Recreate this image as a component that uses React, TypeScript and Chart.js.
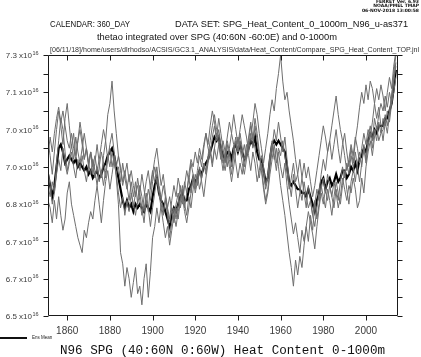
import React, { useEffect, useRef } from "react";
import { Chart, registerables } from "chart.js";
Chart.register(...registerables);

const FIRST_YEAR = 1851;
const years: number[] = Array.from({ length: 164 }, (_, i) => FIRST_YEAR + i);

const xTickYears = [1860, 1880, 1900, 1920, 1940, 1960, 1980, 2000];
const yTickValues = [6.55, 6.65, 6.75, 6.85, 6.95, 7.05, 7.15, 7.25];
const yTickLabels = ["6.5", "6.7", "6.7", "6.8", "7.0", "7.0", "7.1", "7.3"];

const ensMean = [
  6.93, 6.90, 6.87, 6.90, 6.95, 7.00, 7.01, 6.99, 6.96, 6.97,
  6.98, 6.97, 6.96, 6.97, 6.95, 6.96, 6.95, 6.94, 6.95, 6.93,
  6.94, 6.92, 6.93, 6.94, 6.92, 6.93, 6.95, 6.96, 6.98, 6.99,
  7.00, 6.98, 6.95, 6.92, 6.89, 6.86, 6.84, 6.86, 6.84, 6.85,
  6.83, 6.85, 6.84, 6.85, 6.84, 6.83, 6.85, 6.84, 6.83, 6.87,
  6.90, 6.92, 6.88, 6.86, 6.85, 6.83, 6.81, 6.79, 6.82, 6.84,
  6.83, 6.85, 6.87, 6.88, 6.86, 6.86, 6.89, 6.90, 6.92, 6.91,
  6.92, 6.94, 6.93, 6.95, 6.96, 6.97, 6.99, 7.01, 7.03, 7.02,
  7.03, 7.00, 6.98, 6.97, 6.99, 6.99, 6.97, 7.00, 7.01, 6.99,
  7.01, 6.99, 6.97, 6.98, 7.00, 7.02, 7.01, 7.03, 6.99, 6.97,
  6.97, 6.94, 6.91, 6.92, 6.97, 7.01, 7.02, 7.01, 7.02, 7.01,
  7.00, 6.99, 6.95, 6.91, 6.90, 6.91, 6.90, 6.89, 6.89, 6.88,
  6.88, 6.87, 6.89, 6.87, 6.85, 6.83, 6.86, 6.88, 6.91, 6.92,
  6.89, 6.91, 6.92, 6.90, 6.91, 6.93, 6.91, 6.92, 6.94, 6.94,
  6.92, 6.93, 6.95, 6.94, 6.96, 6.94, 6.97, 6.98, 7.00, 6.99,
  7.02, 7.04, 7.03, 7.05, 7.04, 7.06, 7.06, 7.06, 7.08, 7.08,
  7.10, 7.12, 7.16, 7.21,
];

const memberA = [
  7.02, 6.98, 6.93, 6.99, 7.05, 7.10, 7.06, 7.01, 7.08, 7.12,
  7.06, 7.00, 7.04, 6.98, 7.02, 7.07, 7.03, 6.97, 7.00, 6.95,
  6.99, 6.93, 6.96, 7.01, 6.96, 6.92, 6.98, 7.02, 6.97, 7.00,
  6.95, 6.98, 6.92, 6.85, 6.72, 6.69, 6.63, 6.68, 6.65, 6.60,
  6.64, 6.68, 6.61, 6.63, 6.58, 6.65, 6.69, 6.60, 6.67, 6.76,
  6.79, 6.84, 6.80, 6.85, 6.82, 6.87, 6.84, 6.81, 6.86, 6.90,
  6.87, 6.92, 6.89, 6.85, 6.90, 6.94, 6.91, 6.96, 6.93, 6.89,
  6.94, 6.98, 6.95, 7.00, 7.04, 7.01, 7.06, 7.10, 7.07, 7.03,
  7.08, 7.04, 7.00, 6.96, 7.01, 6.97, 6.93, 6.98, 7.02, 6.99,
  7.04, 7.00, 6.95, 6.99, 7.03, 7.07, 7.02, 7.08, 7.04, 6.99,
  6.95, 6.90, 6.86, 6.89, 6.95, 7.00, 7.05, 7.02, 7.07, 7.03,
  6.99, 7.03, 6.97, 6.91, 6.87, 6.93, 6.89, 6.84, 6.88, 6.92,
  6.88, 6.84, 6.90, 6.86, 6.82, 6.79, 6.84, 6.88, 6.93, 6.97,
  6.94, 6.99, 7.02, 6.97, 7.01, 7.05, 7.00, 6.96, 7.01, 7.04,
  6.99, 6.95, 7.00, 6.96, 7.02, 7.06, 7.11, 7.15, 7.12, 7.17,
  7.13, 7.18, 7.16, 7.12, 7.08, 7.11, 7.06, 7.02, 7.07, 7.04,
  7.09, 7.14, 7.20, 7.25,
];

const memberB = [
  6.86, 6.84, 6.80, 6.86, 6.81, 6.87, 6.82, 6.78, 6.81, 6.88,
  6.91, 6.85, 6.82, 6.79, 6.76, 6.74, 6.72, 6.78, 6.76, 6.80,
  6.83, 6.81, 6.86, 6.90, 6.85, 6.80, 6.86, 6.91, 6.94, 6.89,
  6.93, 6.97, 6.93, 6.95, 6.91, 6.96, 6.92, 6.89, 6.93, 6.88,
  6.84, 6.88, 6.90, 6.86, 6.82, 6.87, 6.91, 6.94, 6.89, 6.93,
  6.97, 7.00, 6.95, 6.90, 6.93, 6.88, 6.84, 6.87, 6.83, 6.80,
  6.84, 6.81, 6.86, 6.90, 6.85, 6.82, 6.87, 6.84, 6.89, 6.93,
  6.90, 6.94, 6.91, 6.87, 6.92, 6.96, 6.99, 6.95, 7.00, 7.04,
  7.01, 6.97, 7.02, 6.99, 6.95, 7.00, 7.04, 7.01, 6.96, 6.92,
  6.96, 6.93, 6.97, 7.01, 6.98, 6.94, 6.99, 6.96, 6.91, 6.94,
  6.98, 6.95, 6.90, 6.93, 6.97, 7.02, 6.98, 6.94, 6.99, 6.95,
  6.92, 6.96, 6.90, 6.85, 6.81, 6.77, 6.80, 6.76, 6.72, 6.78,
  6.75, 6.79, 6.83, 6.80, 6.77, 6.73, 6.79, 6.84, 6.88, 6.85,
  6.89, 6.86, 6.90, 6.87, 6.84, 6.89, 6.86, 6.91, 6.95, 6.92,
  6.96, 6.93, 6.98, 6.95, 6.91, 6.96, 6.99, 6.95, 7.01, 6.97,
  7.03, 7.06, 7.02, 7.08, 7.05, 7.09, 7.12, 7.10, 7.14, 7.11,
  7.15, 7.12, 7.18, 7.22,
];

const memberC = [
  6.94, 6.90, 6.85, 6.88, 6.96, 7.02, 7.08, 7.05, 6.99, 6.94,
  6.97, 7.01, 6.97, 7.03, 6.99, 6.96, 7.00, 7.04, 7.00, 6.96,
  6.93, 6.97, 6.94, 6.90, 6.95, 6.99, 6.96, 6.92, 6.97, 7.01,
  7.04, 6.99, 6.95, 6.98, 6.94, 6.90, 6.93, 6.96, 6.91, 6.94,
  6.90, 6.87, 6.92, 6.88, 6.93, 6.89, 6.85, 6.89, 6.86, 6.91,
  6.95, 6.92, 6.88, 6.84, 6.80, 6.76, 6.79, 6.74, 6.78, 6.82,
  6.79, 6.83, 6.86, 6.89, 6.84, 6.88, 6.92, 6.88, 6.93, 6.90,
  6.93, 6.89, 6.92, 6.96, 6.93, 6.97, 7.00, 6.96, 7.00, 6.97,
  7.01, 6.98, 6.94, 6.98, 7.02, 6.99, 6.95, 7.00, 7.03, 6.99,
  7.02, 6.98, 7.01, 6.97, 7.02, 7.06, 7.03, 7.00, 6.96, 6.92,
  6.96, 6.93, 6.89, 6.92, 6.98, 7.01, 6.97, 7.00, 6.95, 6.90,
  6.86, 6.82, 6.77, 6.72, 6.68, 6.63, 6.70, 6.66, 6.71, 6.68,
  6.74, 6.79, 6.75, 6.82, 6.78, 6.85, 6.89, 6.86, 6.90, 6.87,
  6.84, 6.89, 6.86, 6.82, 6.87, 6.91, 6.88, 6.85, 6.90, 6.94,
  6.89, 6.85, 6.91, 6.94, 6.99, 6.95, 6.91, 6.96, 7.00, 6.96,
  7.01, 7.04, 7.00, 7.05, 7.02, 7.07, 7.04, 7.08, 7.06, 7.10,
  7.07, 7.12, 7.15, 7.19,
];

const memberD = [
  6.90, 6.87, 6.91, 6.88, 6.93, 6.97, 6.94, 7.00, 6.96, 6.93,
  6.96, 6.99, 6.95, 6.92, 6.97, 6.94, 6.98, 6.94, 6.91, 6.95,
  6.99, 6.96, 6.92, 6.95, 6.91, 6.94, 6.90, 6.94, 6.98, 6.95,
  6.99, 6.96, 6.93, 6.88, 6.84, 6.87, 6.82, 6.86, 6.83, 6.88,
  6.85, 6.82, 6.86, 6.90, 6.87, 6.83, 6.88, 6.84, 6.79, 6.84,
  6.88, 6.92, 6.89, 6.86, 6.90, 6.87, 6.83, 6.80, 6.84, 6.81,
  6.85, 6.88, 6.84, 6.87, 6.83, 6.80, 6.84, 6.88, 6.92, 6.88,
  6.91, 6.95, 6.92, 6.96, 6.94, 6.98, 7.02, 7.06, 7.09, 7.05,
  7.03, 6.99, 6.96, 6.99, 7.03, 7.07, 7.04, 7.09, 7.05, 7.01,
  7.05, 7.09, 7.06, 7.03, 6.99, 7.03, 7.07, 7.12, 7.09, 7.04,
  7.00, 6.96, 7.00, 7.04, 7.09, 7.13, 7.10, 7.16, 7.20, 7.25,
  7.18, 7.13, 7.15, 7.10, 7.06, 7.02, 6.97, 6.93, 6.97, 6.92,
  6.96, 6.92, 6.95, 6.91, 6.87, 6.90, 6.94, 6.98, 7.02, 7.06,
  7.03, 6.99, 7.02, 7.06, 7.10, 7.14, 7.09, 7.05, 7.02, 6.98,
  6.94, 6.97, 7.01, 6.98, 7.03, 7.00, 6.96, 7.00, 7.04, 7.01,
  7.05, 7.03, 7.07, 7.12, 7.16, 7.13, 7.17, 7.14, 7.10, 7.15,
  7.19, 7.16, 7.22, 7.26,
];

const memberE = [
  6.98, 7.03, 6.99, 7.04, 7.08, 7.11, 7.07, 7.10, 7.06, 7.02,
  7.00, 7.04, 7.00, 6.97, 7.02, 7.05, 7.01, 6.97, 7.00, 6.96,
  6.99, 6.95, 6.98, 6.94, 6.97, 7.01, 7.05, 7.02, 7.09, 7.12,
  7.18, 7.10, 7.04, 6.98, 6.95, 6.91, 6.94, 6.90, 6.86, 6.91,
  6.87, 6.91, 6.85, 6.88, 6.84, 6.80, 6.86, 6.83, 6.90, 6.94,
  6.91, 6.95, 6.90, 6.87, 6.83, 6.86, 6.82, 6.76, 6.80, 6.84,
  6.81, 6.85, 6.90, 6.86, 6.91, 6.88, 6.93, 6.97, 6.95, 6.99,
  6.96, 7.00, 6.97, 7.01, 7.04, 7.00, 6.98, 7.03, 7.06, 7.02,
  7.05, 7.01, 6.97, 6.94, 6.98, 6.95, 6.91, 6.95, 6.99, 7.03,
  7.00, 6.96, 6.93, 6.97, 7.01, 7.04, 7.00, 7.06, 7.02, 6.98,
  6.94, 6.89, 6.85, 6.88, 6.93, 6.97, 7.01, 6.96, 7.00, 6.98,
  7.02, 6.98, 6.94, 6.89, 6.92, 6.96, 6.91, 6.93, 6.89, 6.86,
  6.91, 6.87, 6.84, 6.86, 6.82, 6.86, 6.81, 6.85, 6.89, 6.92,
  6.88, 6.93, 6.90, 6.87, 6.91, 6.88, 6.84, 6.87, 6.92, 6.89,
  6.86, 6.90, 6.88, 6.92, 6.89, 6.84, 6.86, 6.92, 6.88, 6.95,
  6.99, 7.02, 6.98, 7.03, 7.06, 7.02, 7.04, 7.05, 7.09, 7.06,
  7.10, 7.14, 7.18, 7.23,
];

const members = [memberA, memberB, memberC, memberD, memberE];

const toPoints = (vals: number[]) => vals.map((v, i) => ({ x: years[i], y: v }));

function fitText(ctx: CanvasRenderingContext2D, text: string, x: number, y: number, width: number) {
  const w = ctx.measureText(text).width;
  const s = w > 0 ? width / w : 1;
  ctx.save();
  ctx.translate(x, y);
  ctx.scale(s, 1);
  ctx.textAlign = "left";
  ctx.fillText(text, 0, 0);
  ctx.restore();
}

const framePlugin = {
  id: "ferretFrame",
  afterDraw(chart: any) {
    const { ctx, chartArea: a, scales } = chart;
    const x = scales.x;
    const y = scales.y;
    ctx.save();
    ctx.strokeStyle = "#1a1a1a";
    ctx.lineWidth = 1;
    const L = Math.round(a.left) + 0.5;
    const R = Math.round(a.right) - 0.5;
    const T = Math.round(a.top) + 0.5;
    const B = Math.round(a.bottom) - 0.5;
    ctx.beginPath();
    ctx.moveTo(L, T); ctx.lineTo(R, T); ctx.lineTo(R, B); ctx.lineTo(L, B); ctx.closePath();
    ctx.stroke();

    ctx.beginPath();
    xTickYears.forEach((yr) => {
      const px = Math.round(x.getPixelForValue(yr)) + 0.5;
      ctx.moveTo(px, B); ctx.lineTo(px, B + 5);
      ctx.moveTo(px, T); ctx.lineTo(px, T + 5);
    });
    for (let i = 0; i < yTickValues.length; i++) {
      const vals = [yTickValues[i]];
      if (i < yTickValues.length - 1) vals.push((yTickValues[i] + yTickValues[i + 1]) / 2);
      vals.forEach((v) => {
        const py = Math.round(y.getPixelForValue(v)) + 0.5;
        ctx.moveTo(L - 5, py); ctx.lineTo(L, py);
        ctx.moveTo(R, py); ctx.lineTo(R + 5, py);
      });
    }
    ctx.stroke();

    ctx.fillStyle = "#3a3a3a";
    ctx.font = "10px 'Liberation Sans', Arial, sans-serif";
    ctx.textAlign = "center";
    ctx.textBaseline = "middle";
    xTickYears.forEach((yr) => {
      ctx.fillText(String(yr), x.getPixelForValue(yr), 331);
    });

    yTickValues.forEach((v, i) => {
      const py = y.getPixelForValue(v);
      ctx.font = "8px 'Liberation Sans', Arial, sans-serif";
      ctx.textAlign = "right";
      ctx.textBaseline = "middle";
      ctx.fillText(yTickLabels[i] + " x10", 32, py + 1);
      ctx.font = "5.5px 'Liberation Sans', Arial, sans-serif";
      ctx.textAlign = "left";
      ctx.fillText("16", 32.5, py - 2);
    });

    ctx.fillStyle = "#111";
    ctx.textBaseline = "middle";
    ctx.font = "bold 4.5px 'DejaVu Sans', sans-serif";
    ctx.textAlign = "right";
    ctx.fillText("FERRET Ver. 6.93", 419, 2);
    ctx.fillText("NOAA/PMEL TMAP", 419, 6);
    ctx.fillText("06-NOV-2018 13:00:58", 419, 10.5);

    ctx.font = "8.5px 'Liberation Sans', Arial, sans-serif";
    fitText(ctx, "CALENDAR: 360_DAY", 50, 25, 80);
    fitText(ctx, "DATA SET: SPG_Heat_Content_0_1000m_N96_u-as371", 175, 25, 233);
    fitText(ctx, "thetao integrated over SPG (40:60N -60:0E) and 0-1000m", 97, 37.5, 240);
    ctx.fillStyle = "#333";
    ctx.font = "7.5px 'Liberation Sans', Arial, sans-serif";
    fitText(ctx, "[06/11/18]/home/users/dlrhodso/ACSIS/GC3.1_ANALYSIS/data/Heat_Content/Compare_SPG_Heat_Content_TOP.jnl", 50, 49.5, 369);

    ctx.strokeStyle = "#111";
    ctx.lineWidth = 2;
    ctx.beginPath();
    ctx.moveTo(0, 338); ctx.lineTo(27, 338);
    ctx.stroke();
    ctx.fillStyle = "#222";
    ctx.font = "4.5px 'Liberation Sans', Arial, sans-serif";
    ctx.textAlign = "left";
    ctx.fillText("Ens Mean", 32, 338);

    ctx.fillStyle = "#111";
    ctx.font = "12.5px 'Liberation Mono', monospace";
    fitText(ctx, "N96 SPG (40:60N 0:60W) Heat Content 0-1000m", 60, 351, 325);
    ctx.restore();
  },
};

export default function App() {
  const ref = useRef<HTMLCanvasElement>(null);
  useEffect(() => {
    if (!ref.current) return;
    const datasets: any[] = members.map((m, i) => ({
      label: "member " + (i + 1),
      data: toPoints(m),
      borderColor: "#6e6e6e",
      borderWidth: 1,
      pointRadius: 0,
      tension: 0,
      fill: false,
    }));
    datasets.push({
      label: "Ens Mean",
      data: toPoints(ensMean),
      borderColor: "#000000",
      borderWidth: 2.2,
      pointRadius: 0,
      tension: 0,
      fill: false,
    });
    const chart = new Chart(ref.current, {
      type: "line",
      data: { datasets },
      options: {
        animation: false,
        responsive: false,
        devicePixelRatio: 1,
        layout: { padding: { left: 48, right: 23, top: 55, bottom: 41 } },
        plugins: { legend: { display: false }, tooltip: { enabled: false }, title: { display: false } },
        scales: {
          x: { type: "linear", min: 1851, max: 2015, display: false },
          y: { type: "linear", min: 6.55, max: 7.25, display: false },
        },
      },
      plugins: [framePlugin],
    });
    return () => chart.destroy();
  }, []);
  return (
    <div style={{ position: "absolute", left: 0, top: 0, width: 421, height: 357, background: "#fff" }}>
      <canvas ref={ref} width={421} height={357} style={{ display: "block" }} />
    </div>
  );
}
